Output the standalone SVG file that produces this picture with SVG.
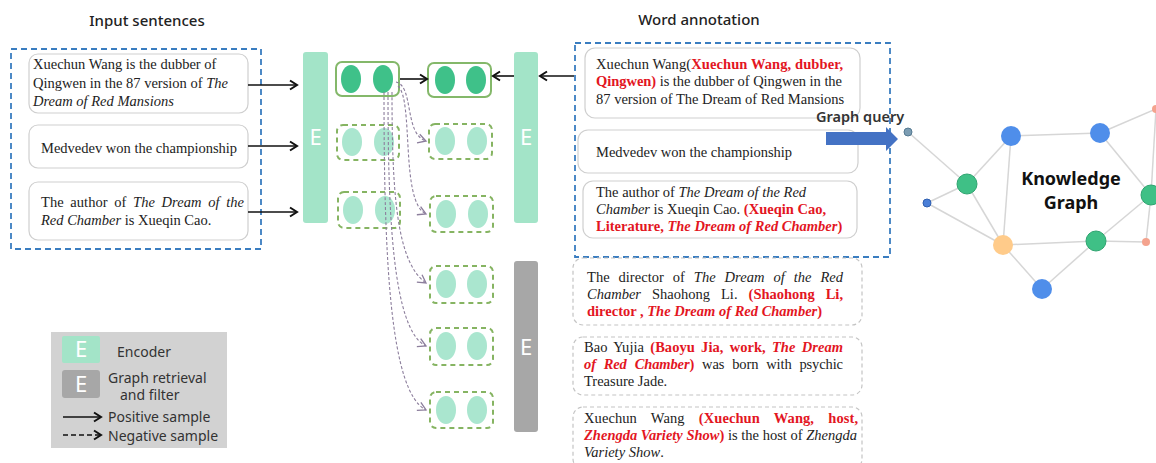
<svg xmlns="http://www.w3.org/2000/svg" width="1156" height="463" viewBox="0 0 1156 463">
  <style>
    .title { font-family: "Noto Sans", "Open Sans", sans-serif; font-size: 15px; font-weight: 500; fill: #222; text-anchor: middle; }
    .sans { font-family: "Noto Sans", "Open Sans", sans-serif; fill: #333; }
    .serif { font-family: "Liberation Serif", "Times New Roman", serif; font-size: 14.5px; fill: #222; }
    .it { font-style: italic; }
    .red { fill: #E3161F; font-weight: bold; }
    .group-box { fill: none; stroke: #3A7DC0; stroke-width: 1.8; stroke-dasharray: 6 4; }
    .card { fill: #fff; stroke: #CFCFCF; stroke-width: 1.2; }
    .card-dash { fill: #fff; stroke: #C4C4C4; stroke-width: 1.2; stroke-dasharray: 4 3; }
    .enc { fill: #A3E4C8; }
    .filter { fill: #A7A7A7; }
    .elabel { font-family: "Noto Sans", "Open Sans", sans-serif; font-size: 22px; fill: #fff; text-anchor: middle; }
    .cap-solid { fill: #fff; stroke: #84B86A; stroke-width: 2; }
    .cap-dash { fill: #fff; stroke: #86B462; stroke-width: 2; stroke-dasharray: 5 4; }
    .dot-pos { fill: #3FC189; }
    .dot-neg { fill: #AAE6CF; }
    .pos { stroke: #111; stroke-width: 1.6; fill: none; marker-end: url(#arrow); }
    .neg { stroke: #8C7E9C; stroke-width: 1.1; fill: none; stroke-dasharray: 3 2; marker-end: url(#chev); }
    .edge { stroke: #D6D6D6; stroke-width: 1.5; }
    .kg-label { font-family: "Noto Sans", "Open Sans", sans-serif; font-size: 18px; font-weight: bold; fill: #111; text-anchor: middle; }
  </style>
  <defs>
    <marker id="arrow" viewBox="0 0 12 12" refX="10" refY="6" markerWidth="12" markerHeight="12" markerUnits="userSpaceOnUse" orient="auto">
      <path d="M3,1.5 L10,6 L3,10.5" fill="none" stroke="#111" stroke-width="2"/>
    </marker>
    <marker id="chev" viewBox="0 0 12 12" refX="10" refY="6" markerWidth="12" markerHeight="12" markerUnits="userSpaceOnUse" orient="auto">
      <path d="M2,1.5 L10,6 L2,10.5" fill="none" stroke="#8C7E9C" stroke-width="1.3"/>
    </marker>
  </defs>

  <!-- input sentences -->
  <g id="input-sentences">
    <text class="title" x="147" y="26">Input sentences</text>
    <rect class="group-box" x="11" y="49" width="250" height="200"/>
    <g id="in-1">
      <rect class="card" x="29" y="54" width="219" height="59" rx="9"/>
      <text class="serif" x="33" y="69">Xuechun Wang is the dubber of</text>
      <text class="serif" x="33" y="88">Qingwen in the 87 version of <tspan class="it">The</tspan></text>
      <text class="serif it" x="33" y="106">Dream of Red Mansions</text>
    </g>
    <g id="in-2">
      <rect class="card" x="29" y="125" width="219" height="43" rx="9"/>
      <text class="serif" x="41" y="153">Medvedev won the championship</text>
    </g>
    <g id="in-3">
      <rect class="card" x="29" y="182" width="219" height="58" rx="9"/>
      <text class="serif" x="41" y="207" word-spacing="3" textLength="203" lengthAdjust="spacing">The author of <tspan class="it">The Dream of the</tspan></text>
      <text class="serif" x="41" y="225"><tspan class="it">Red Chamber</tspan> is Xueqin Cao.</text>
    </g>
  </g>

  <!-- encoders and filter -->
  <g id="encoder-left">
    <rect class="enc" x="303" y="52" width="25" height="171" rx="3"/>
    <text class="elabel" x="315.5" y="145">E</text>
  </g>
  <g id="encoder-right">
    <rect class="enc" x="514" y="52" width="24" height="171" rx="3"/>
    <text class="elabel" x="526" y="145">E</text>
  </g>
  <g id="graph-filter">
    <rect class="filter" x="514" y="261" width="24" height="171" rx="3"/>
    <text class="elabel" x="526" y="355">E</text>
  </g>

  <!-- sentence embeddings -->
  <g id="emb-in-1">
    <rect class="cap-solid" x="336" y="62" width="63" height="34" rx="6"/>
    <ellipse class="dot-pos" cx="351" cy="79" rx="10" ry="14"/>
    <ellipse class="dot-pos" cx="383" cy="79" rx="10" ry="14"/>
  </g>
  <g id="emb-in-2">
    <rect class="cap-dash" x="337" y="125" width="62" height="35" rx="6"/>
    <ellipse class="dot-neg" cx="352" cy="142" rx="10" ry="14"/>
    <ellipse class="dot-neg" cx="384" cy="142" rx="10" ry="14"/>
  </g>
  <g id="emb-in-3">
    <rect class="cap-dash" x="338" y="192" width="62" height="36" rx="6"/>
    <ellipse class="dot-neg" cx="353" cy="210" rx="10" ry="14"/>
    <ellipse class="dot-neg" cx="385" cy="210" rx="10" ry="14"/>
  </g>
  <g id="emb-out-1">
    <rect class="cap-solid" x="428" y="63" width="63" height="34" rx="6"/>
    <ellipse class="dot-pos" cx="445" cy="80" rx="10" ry="14"/>
    <ellipse class="dot-pos" cx="476" cy="80" rx="10" ry="14"/>
  </g>
  <g id="emb-out-2">
    <rect class="cap-dash" x="429" y="124" width="63" height="35" rx="6"/>
    <ellipse class="dot-neg" cx="445" cy="141" rx="10" ry="14"/>
    <ellipse class="dot-neg" cx="477" cy="141" rx="10" ry="14"/>
  </g>
  <g id="emb-out-3">
    <rect class="cap-dash" x="430" y="196" width="63" height="36" rx="6"/>
    <ellipse class="dot-neg" cx="446" cy="214" rx="10" ry="14"/>
    <ellipse class="dot-neg" cx="478" cy="214" rx="10" ry="14"/>
  </g>
  <g id="emb-out-4">
    <rect class="cap-dash" x="430" y="266" width="63" height="37" rx="6"/>
    <ellipse class="dot-neg" cx="446" cy="284" rx="10" ry="14"/>
    <ellipse class="dot-neg" cx="477" cy="284" rx="10" ry="14"/>
  </g>
  <g id="emb-out-5">
    <rect class="cap-dash" x="430" y="328" width="63" height="37" rx="6"/>
    <ellipse class="dot-neg" cx="446" cy="346" rx="10" ry="14"/>
    <ellipse class="dot-neg" cx="477" cy="346" rx="10" ry="14"/>
  </g>
  <g id="emb-out-6">
    <rect class="cap-dash" x="430" y="392" width="63" height="36" rx="6"/>
    <ellipse class="dot-neg" cx="446" cy="410" rx="10" ry="14"/>
    <ellipse class="dot-neg" cx="477" cy="410" rx="10" ry="14"/>
  </g>

  <!-- annotated sentences -->
  <g id="word-annotation">
    <text class="title" x="699" y="25">Word annotation</text>
    <rect class="group-box" x="575" y="43" width="315" height="214"/>
    <g id="ann-1">
      <rect class="card" x="585" y="48" width="275" height="70" rx="10"/>
      <text class="serif" x="596" y="69" textLength="247" lengthAdjust="spacing">Xuechun Wang(<tspan class="red">Xuechun Wang, dubber,</tspan></text>
      <text class="serif" x="596" y="86" textLength="246" lengthAdjust="spacing"><tspan class="red">Qingwen)</tspan> is the dubber of Qingwen in the</text>
      <text class="serif" x="596" y="104">87 version of The Dream of Red Mansions</text>
    </g>
    <g id="ann-2">
      <rect class="card" x="578" y="130" width="280" height="43" rx="10"/>
      <text class="serif" x="596" y="157">Medvedev won the championship</text>
    </g>
    <g id="ann-3">
      <rect class="card" x="583" y="181" width="274" height="57" rx="10"/>
      <text class="serif" x="596" y="197">The author of <tspan class="it">The Dream of the Red</tspan></text>
      <text class="serif" x="596" y="214"><tspan class="it">Chamber</tspan> is Xueqin Cao. <tspan class="red">(Xueqin Cao,</tspan></text>
      <text class="serif" x="596" y="231"><tspan class="red">Literature, </tspan><tspan class="red it">The Dream of Red Chamber</tspan><tspan class="red">)</tspan></text>
    </g>
  </g>

  <!-- retrieved candidate sentences -->
  <g id="cand-1">
    <rect class="card-dash" x="573" y="258" width="289" height="67" rx="10"/>
    <text class="serif" x="587" y="282" word-spacing="5.3" textLength="256" lengthAdjust="spacing">The director of <tspan class="it">The Dream of the Red</tspan></text>
    <text class="serif" x="587" y="299" word-spacing="7.4" textLength="256" lengthAdjust="spacing"><tspan class="it">Chamber</tspan> Shaohong Li. <tspan class="red">(Shaohong Li,</tspan></text>
    <text class="serif" x="587" y="316"><tspan class="red">director , </tspan><tspan class="red it">The Dream of Red Chamber</tspan><tspan class="red">)</tspan></text>
  </g>
  <g id="cand-2">
    <rect class="card-dash" x="573" y="337" width="289" height="58" rx="10"/>
    <text class="serif" x="584" y="352" word-spacing="2.5" textLength="259" lengthAdjust="spacing">Bao Yujia <tspan class="red">(Baoyu Jia, work, </tspan><tspan class="red it">The Dream</tspan></text>
    <text class="serif" x="584" y="369" word-spacing="4.4" textLength="259" lengthAdjust="spacing"><tspan class="red it">of Red Chamber</tspan><tspan class="red">)</tspan> was born with psychic</text>
    <text class="serif" x="584" y="386">Treasure Jade.</text>
  </g>
  <g id="cand-3">
    <rect class="card-dash" x="573" y="407" width="289" height="62" rx="10"/>
    <text class="serif" x="584" y="423" word-spacing="10.5" textLength="274" lengthAdjust="spacing">Xuechun Wang <tspan class="red">(Xuechun Wang, host,</tspan></text>
    <text class="serif" x="584" y="440" textLength="273" lengthAdjust="spacing"><tspan class="red it">Zhengda Variety Show</tspan><tspan class="red">)</tspan> is the host of <tspan class="it">Zhengda</tspan></text>
    <text class="serif" x="584" y="457"><tspan class="it">Variety Show</tspan>.</text>
  </g>

  <!-- graph query arrow -->
  <g id="graph-query">
    <text class="sans" x="816" y="122" font-size="14.5" font-weight="600" fill="#222">Graph query</text>
    <path d="M826,132 L886,132 L886,127 L898,139 L886,151 L886,145 L826,145 Z" fill="#4472C4"/>
  </g>

  <!-- knowledge graph -->
  <g id="knowledge-graph">
    <g class="edges">
      <line class="edge" x1="908" y1="132" x2="967" y2="184"/>
      <line class="edge" x1="927" y1="203" x2="967" y2="184"/>
      <line class="edge" x1="927" y1="203" x2="1003" y2="245"/>
      <line class="edge" x1="967" y1="184" x2="1011" y2="136"/>
      <line class="edge" x1="967" y1="184" x2="1003" y2="245"/>
      <line class="edge" x1="1011" y1="136" x2="1100" y2="133"/>
      <line class="edge" x1="1011" y1="136" x2="1003" y2="245"/>
      <line class="edge" x1="1100" y1="133" x2="1156" y2="109"/>
      <line class="edge" x1="1100" y1="133" x2="1151" y2="195"/>
      <line class="edge" x1="1156" y1="109" x2="1151" y2="195"/>
      <line class="edge" x1="1003" y1="245" x2="1096" y2="241"/>
      <line class="edge" x1="1003" y1="245" x2="1042" y2="289"/>
      <line class="edge" x1="1096" y1="241" x2="1042" y2="289"/>
      <line class="edge" x1="1096" y1="241" x2="1146" y2="242"/>
      <line class="edge" x1="1096" y1="241" x2="1151" y2="195"/>
      <line class="edge" x1="1151" y1="195" x2="1146" y2="242"/>
    </g>
    <circle cx="908" cy="132" r="4" fill="#7C9DB3" stroke="#557A92" stroke-width="1"/>
    <circle cx="927" cy="203" r="4" fill="#4A7FD8" stroke="#2F5FB0" stroke-width="1"/>
    <circle cx="967" cy="184" r="10" fill="#3FC086" stroke="#2FA470" stroke-width="1"/>
    <circle cx="1011" cy="136" r="10" fill="#4F8EEA"/>
    <circle cx="1100" cy="133" r="10" fill="#4F8EEA"/>
    <circle cx="1003" cy="245" r="10" fill="#FFCB8A"/>
    <circle cx="1096" cy="241" r="10" fill="#3FC086" stroke="#2FA470" stroke-width="1"/>
    <circle cx="1042" cy="289" r="10" fill="#4F8EEA"/>
    <circle cx="1151" cy="195" r="10" fill="#3FC086" stroke="#2FA470" stroke-width="1"/>
    <circle cx="1146" cy="242" r="4" fill="#F4A38E"/>
    <circle cx="1156" cy="109" r="4" fill="#F4A38E"/>
    <text class="kg-label" x="1071" y="185">Knowledge</text>
    <text class="kg-label" x="1071" y="209">Graph</text>
  </g>

  <!-- legend -->
  <g id="legend">
    <rect x="51" y="332" width="176" height="116" fill="#D2D2D2"/>
    <rect class="enc" x="62" y="336" width="38" height="27" rx="2"/>
    <text class="elabel" x="81" y="357" font-size="20">E</text>
    <rect class="filter" x="62" y="370" width="38" height="28" rx="3"/>
    <text class="elabel" x="81" y="392" font-size="20">E</text>
    <text class="sans" x="117" y="357" font-size="14">Encoder</text>
    <text class="sans" x="108" y="383" font-size="14">Graph retrieval</text>
    <text class="sans" x="120" y="400" font-size="14">and filter</text>
    <line x1="63" y1="417" x2="101" y2="417" class="pos"/>
    <text class="sans" x="108" y="422" font-size="14">Positive sample</text>
    <line x1="63" y1="435" x2="101" y2="435" stroke="#111" stroke-width="1.6" stroke-dasharray="5 3" marker-end="url(#arrow)"/>
    <text class="sans" x="108" y="441" font-size="14">Negative sample</text>
  </g>

  <!-- connectors -->
  <g id="connectors">
    <line class="pos" x1="248" y1="85" x2="297" y2="85"/>
    <line class="pos" x1="248" y1="146" x2="297" y2="146"/>
    <line class="pos" x1="248" y1="212" x2="297" y2="212"/>
    <line class="pos" x1="400" y1="79" x2="427" y2="79"/>
    <line class="pos" x1="514" y1="76" x2="493" y2="76"/>
    <line class="pos" x1="574" y1="76" x2="540" y2="76"/>
    <path class="neg" d="M396,82 C414,86 404,134 426,141"/>
    <path class="neg" d="M398,86 C414,100 400,202 426,214"/>
    <path class="neg" d="M392,92 C392,190 396,262 426,283"/>
    <path class="neg" d="M388,92 C388,210 392,330 426,346"/>
    <path class="neg" d="M384,92 C384,260 390,392 426,410"/>
  </g>
</svg>
